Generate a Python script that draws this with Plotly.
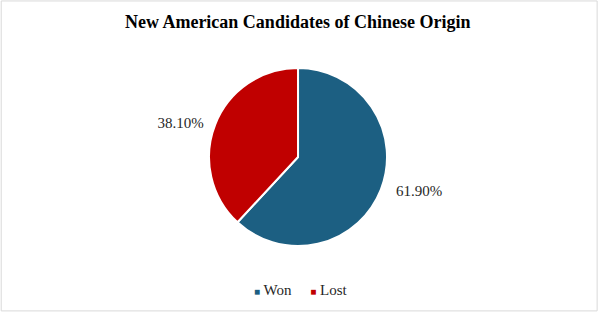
import plotly.graph_objects as go

labels = ["Won", "Lost"]
values = [61.90, 38.10]
colors = ["#1C5F82", "#C00000"]
label_templates = ["&nbsp;&nbsp;&nbsp;%{value:.2f}%", "%{value:.2f}%&nbsp;&nbsp;"]

fig = go.Figure(go.Pie(
    labels=labels,
    values=values,
    sort=False,
    direction="clockwise",
    rotation=0,
    marker=dict(colors=colors, line=dict(color="white", width=2)),
    textposition="outside",
    texttemplate=label_templates,
    textfont=dict(family="Liberation Serif", size=15, color="#262626"),
    domain=dict(x=[0.3455, 0.6397], y=[0.219, 0.784]),
    showlegend=False,
))

legend_text = "&nbsp;&nbsp;&nbsp;&nbsp;&nbsp;".join(
    f"<span style='color:{c};font-size:10px'>■</span> {l}" for l, c in zip(labels, colors)
)

fig.update_layout(
    width=605, height=315,
    margin=dict(l=0, r=0, t=0, b=0),
    paper_bgcolor="white",
    title=dict(text="<b>New American Candidates of Chinese Origin</b>",
               x=0.492, xanchor="center", y=0.93, yanchor="middle",
               font=dict(family="Liberation Serif", size=18, color="black")),
    annotations=[dict(text=legend_text, xref="paper", yref="paper",
                      x=0.498, y=0.08, xanchor="center", yanchor="middle",
                      showarrow=False,
                      font=dict(family="Liberation Serif", size=15, color="#262626"))],
    shapes=[dict(type="rect", xref="paper", yref="paper",
                 x0=0.002, x1=0.987, y0=0.013, y1=0.997,
                 line=dict(color="#D9D9D9", width=1))],
)

fig.write_html("out.html", config={"displayModeBar": False},
               post_script="document.body.style.margin='0';")
